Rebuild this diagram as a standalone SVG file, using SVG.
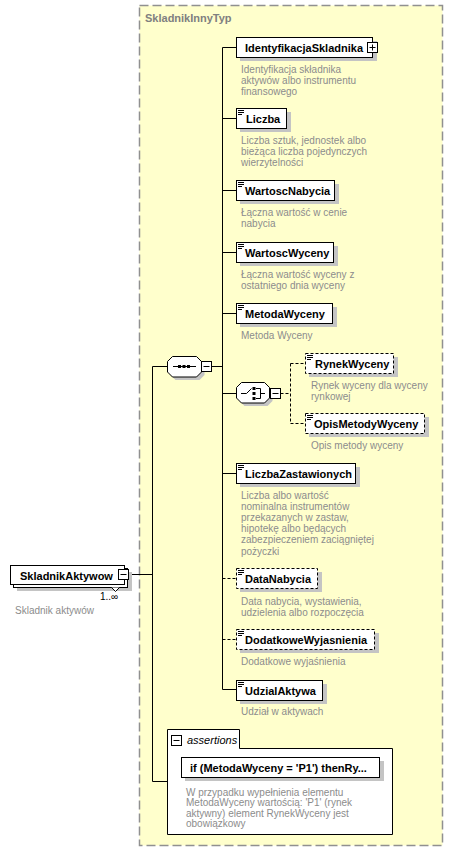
<svg xmlns="http://www.w3.org/2000/svg" width="454" height="864" viewBox="0 0 454 864">
<style>
.name{font-family:"Liberation Sans",Arial,sans-serif;font-size:11px;font-weight:bold;fill:#000}
.desc{font-family:"Liberation Sans",Arial,sans-serif;font-size:10px;fill:#8c8c8c}
.title{font-family:"Liberation Sans",Arial,sans-serif;font-size:11px;font-weight:bold;fill:#808080}
.box{fill:#fff;stroke:#000;stroke-width:1}
.dbox{fill:#fff;stroke:#000;stroke-width:1;stroke-dasharray:3,2}
.shadow{fill:#c4c4c4}
.conn{stroke:#000;fill:none;stroke-width:1}
.dconn{stroke:#000;fill:none;stroke-width:1;stroke-dasharray:3,2}
.ico{stroke:#000;stroke-width:1;fill:none}
</style>
<defs>
<path id="ico" d="M0,0.5h6M0,2.5h6M0,4.5h4" class="ico"/>
</defs>
<rect x="0" y="0" width="454" height="864" fill="#fff"/>
<g id="container">
<rect x="139.5" y="5.5" width="303" height="840" fill="#ffffcc" stroke="#909090" stroke-width="1.5" stroke-dasharray="9,4"/>
<text class="title" x="145" y="22">SkladnikInnyTyp</text>
</g>
<g id="connectors">
<path class="conn" d="M128.5,574.5H152.5M152.5,366.5V781.5H167M152.5,366.5H167.5M211.5,366.5H222.5"/>
<path class="conn" d="M222.5,47.5V689.5H236M222.5,47.5H236M222.5,118.5H236M222.5,190.5H236M222.5,252.5H236M222.5,313.5H236M222.5,393.5H236.5M222.5,473.5H236"/>
<path class="dconn" d="M222.5,578.5H236M222.5,639.5H236M280.5,393.5H290.5M290.5,363.5V423.5M290.5,363.5H305M290.5,423.5H305"/>
</g>
<g id="n-skladnikaktywow">
<rect class="shadow" x="17" y="572" width="115" height="19"/>
<rect class="box" x="13.5" y="568.5" width="114" height="19"/>
<rect class="box" x="10.5" y="565.5" width="114" height="19"/>
<text class="name" x="20" y="580">SkladnikAktywow</text>
<rect class="box" x="118.5" y="569.5" width="10" height="10"/>
<path class="ico" d="M120.5,574.5h6"/>
<path d="M111.5,587.5L115.5,591.5L119.5,587.5" fill="#fff" stroke="#000"/>
<text x="100" y="600" style="font-family:'Liberation Sans',Arial,sans-serif;font-size:10px;fill:#000">1..∞</text>
<text class="desc" x="15" y="614">Skladnik aktywów</text>
</g>
<g id="n-sequence">
<path class="shadow" d="M175.5,359.5H199.5L204.5,364.5V375L199.5,380H175.5L170.5,375V364.5Z"/>
<path class="box" d="M172.5,356.5H196.5L201.5,361.5V372L196.5,377H172.5L167.5,372V361.5Z"/>
<path class="ico" d="M173,366.5H196"/>
<rect x="178" y="365" width="3" height="3"/>
<rect x="182.5" y="365" width="3" height="3"/>
<rect x="187" y="365" width="3" height="3"/>
<rect class="box" x="201.5" y="361.5" width="10" height="10"/>
<path class="ico" d="M203.5,366.5h6"/>
</g>
<g id="n-choice">
<path class="shadow" d="M244.5,385.5H267.5L272.5,390.5V401L267.5,406H244.5L239.5,401V390.5Z"/>
<path class="box" d="M241.5,382.5H264.5L269.5,387.5V398L264.5,403H241.5L236.5,398V387.5Z"/>
<path class="ico" d="M241,393.5H246.5L251.5,388.5M256,388.5H260.5V398.5H256M260.5,393.5H265"/>
<rect x="252.5" y="387" width="3" height="3"/>
<rect x="252.5" y="392" width="3" height="3"/>
<rect x="252.5" y="397" width="3" height="3"/>
<rect class="box" x="270.5" y="388.5" width="10" height="10"/>
<path class="ico" d="M272.5,393.5h6"/>
</g>
<g id="n-identyfikacja">
<rect class="shadow" x="240" y="41" width="137" height="20"/>
<rect class="box" x="236.5" y="37.5" width="136" height="20"/>
<text class="name" x="245" y="52">IdentyfikacjaSkladnika</text>
<rect class="box" x="367.5" y="42.5" width="10" height="10"/>
<path class="ico" d="M369.5,47.5h6M372.5,44.5v6"/>
<text class="desc"><tspan x="241" y="72.5">Identyfikacja składnika</tspan><tspan x="241" y="83.5">aktywów albo instrumentu</tspan><tspan x="241" y="94.5">finansowego</tspan></text>
</g>
<g id="n-liczba">
<rect class="shadow" x="240" y="112" width="51" height="20"/>
<rect class="box" x="236.5" y="108.5" width="50" height="20"/>
<use href="#ico" x="238" y="110"/>
<text class="name" x="246" y="123">Liczba</text>
<text class="desc"><tspan x="241" y="144">Liczba sztuk, jednostek albo</tspan><tspan x="241" y="155">bieżąca liczba pojedynczych</tspan><tspan x="241" y="166">wierzytelności</tspan></text>
</g>
<g id="n-wartoscnabycia">
<rect class="shadow" x="240" y="184" width="99" height="20"/>
<rect class="box" x="236.5" y="180.5" width="98" height="20"/>
<use href="#ico" x="238" y="182"/>
<text class="name" x="245" y="195">WartoscNabycia</text>
<text class="desc"><tspan x="241" y="216">Łączna wartość w cenie</tspan><tspan x="241" y="227">nabycia</tspan></text>
</g>
<g id="n-wartoscwyceny">
<rect class="shadow" x="240" y="246" width="98" height="20"/>
<rect class="box" x="236.5" y="242.5" width="97" height="20"/>
<use href="#ico" x="238" y="244"/>
<text class="name" x="245" y="257">WartoscWyceny</text>
<text class="desc"><tspan x="241" y="278">Łączna wartość wyceny z</tspan><tspan x="241" y="289">ostatniego dnia wyceny</tspan></text>
</g>
<g id="n-metodawyceny">
<rect class="shadow" x="240" y="307" width="97" height="20"/>
<rect class="box" x="236.5" y="303.5" width="96" height="20"/>
<use href="#ico" x="238" y="305"/>
<text class="name" x="245" y="318">MetodaWyceny</text>
<text class="desc" x="241" y="338.5">Metoda Wyceny</text>
</g>
<g id="n-rynekwyceny">
<rect class="shadow" x="309" y="357" width="89" height="20"/>
<rect class="dbox" x="305.5" y="353.5" width="88" height="20"/>
<use href="#ico" x="307" y="355"/>
<text class="name" x="315" y="368">RynekWyceny</text>
<text class="desc"><tspan x="311" y="388.5">Rynek wyceny dla wyceny</tspan><tspan x="311" y="399.5">rynkowej</tspan></text>
</g>
<g id="n-opismetodywyceny">
<rect class="shadow" x="309" y="417" width="120" height="20"/>
<rect class="dbox" x="305.5" y="413.5" width="119" height="20"/>
<use href="#ico" x="307" y="415"/>
<text class="name" x="314" y="428">OpisMetodyWyceny</text>
<text class="desc" x="311" y="449">Opis metody wyceny</text>
</g>
<g id="n-liczbazastawionych">
<rect class="shadow" x="240" y="467" width="120" height="20"/>
<rect class="box" x="236.5" y="463.5" width="119" height="20"/>
<use href="#ico" x="238" y="465"/>
<text class="name" x="245" y="478">LiczbaZastawionych</text>
<text class="desc"><tspan x="241" y="498.5">Liczba albo wartość</tspan><tspan x="241" y="509.7">nominalna instrumentów</tspan><tspan x="241" y="520.9">przekazanych w zastaw,</tspan><tspan x="241" y="532.1">hipotekę albo będących</tspan><tspan x="241" y="543.3">zabezpieczeniem zaciągniętej</tspan><tspan x="241" y="554.5">pożyczki</tspan></text>
</g>
<g id="n-datanabycia">
<rect class="shadow" x="240" y="572" width="82" height="20"/>
<rect class="dbox" x="236.5" y="568.5" width="81" height="20"/>
<use href="#ico" x="238" y="570"/>
<text class="name" x="245" y="583">DataNabycia</text>
<text class="desc"><tspan x="241" y="604.5">Data nabycia, wystawienia,</tspan><tspan x="241" y="615.5">udzielenia albo rozpoczęcia</tspan></text>
</g>
<g id="n-dodatkowewyjasnienia">
<rect class="shadow" x="240" y="633" width="139" height="20"/>
<rect class="dbox" x="236.5" y="629.5" width="138" height="20"/>
<use href="#ico" x="238" y="631"/>
<text class="name" x="245" y="644">DodatkoweWyjasnienia</text>
<text class="desc" x="241" y="664.5">Dodatkowe wyjaśnienia</text>
</g>
<g id="n-udzialaktywa">
<rect class="shadow" x="240" y="684" width="87" height="20"/>
<rect class="box" x="236.5" y="680.5" width="86" height="20"/>
<use href="#ico" x="238" y="682"/>
<text class="name" x="245" y="695">UdzialAktywa</text>
<text class="desc" x="241" y="715">Udział w aktywach</text>
</g>
<g id="n-assertions">
<path class="box" d="M167.5,729.5H239.5V748.5H392.5V834.5H167.5Z"/>
<rect class="box" x="171.5" y="735.5" width="10" height="10"/>
<path class="ico" d="M173.5,740.5h6"/>
<text x="187" y="744" style="font-family:'Liberation Sans',Arial,sans-serif;font-size:11px;font-style:italic;fill:#000">assertions</text>
<rect class="shadow" x="185" y="761" width="199" height="20"/>
<rect class="box" x="181.5" y="757.5" width="198" height="20"/>
<text class="name" x="190" y="772">if (MetodaWyceny = 'P1') thenRy...</text>
<text class="desc"><tspan x="186" y="795.5">W przypadku wypełnienia elementu</tspan><tspan x="186" y="806">MetodaWyceny wartością: 'P1' (rynek</tspan><tspan x="186" y="816.5">aktywny) element RynekWyceny jest</tspan><tspan x="186" y="827">obowiązkowy</tspan></text>
</g>
</svg>
